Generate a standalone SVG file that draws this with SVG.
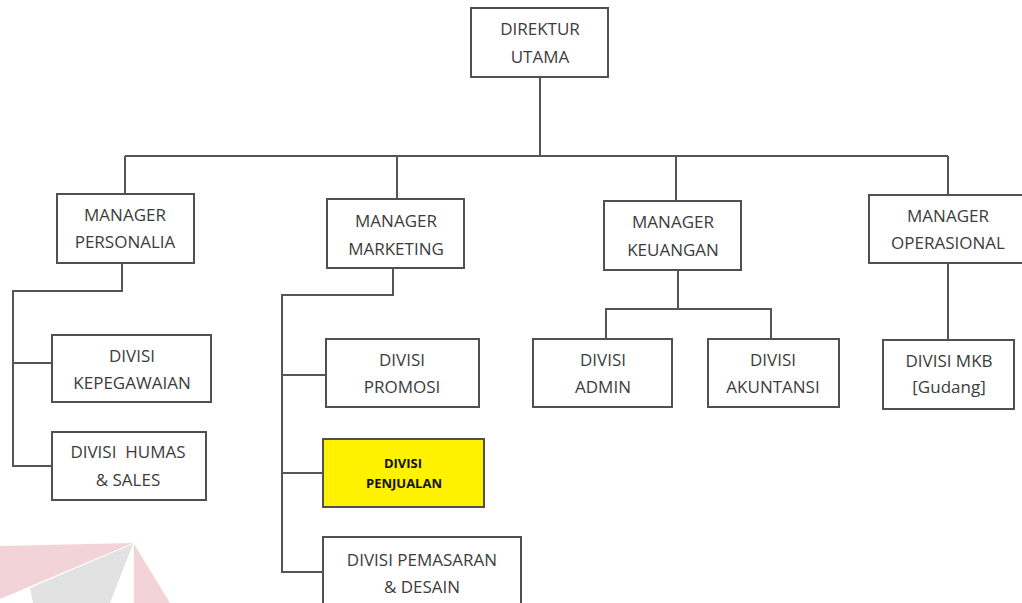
<svg xmlns="http://www.w3.org/2000/svg" width="1022" height="603" viewBox="0 0 1022 603">
<style>
.box{fill:#fff;stroke:#505050;stroke-width:2}
.hl{fill:#fff200;stroke:#505050;stroke-width:2}
.t{font-family:"Open Sans","Liberation Sans",sans-serif;font-size:17px;fill:#3c3c3c;text-anchor:middle}
.tb{font-family:"Open Sans","Liberation Sans",sans-serif;font-size:13px;font-weight:bold;fill:#111;text-anchor:middle}
.c{fill:none;stroke:#555;stroke-width:2}
</style>
<rect width="1022" height="603" fill="#fff"/>
<g id="watermark">
<polygon points="0,546 133,543 0,599" fill="#f2d3d7"/>
<polygon points="133,544 30,588 33,603 110,603" fill="#e2e2e2"/>
<polygon points="134,544 134,603 170,603" fill="#f2d3d7"/>
</g>
<g id="connectors">
<path class="c" d="M540,77 V156 M125,156 H948 M125,156 V194 M397,156 V199 M676,156 V201 M948,156 V195"/>
<path class="c" d="M122,263 V291 H13 V466 H52 M13,363 H52"/>
<path class="c" d="M393,268 V295 H282 V572 H323 M282,375 H326 M282,473 H323"/>
<path class="c" d="M678,270 V309 M606,339 V309 H771 V342"/>
<path class="c" d="M948,263 V340"/>
</g>
<g id="direktur"><rect class="box" x="471" y="8" width="137" height="69"/><text class="t" x="540" y="35">DIREKTUR</text><text class="t" x="540" y="63">UTAMA</text></g>
<g id="mgr-personalia"><rect class="box" x="57" y="194" width="137" height="69"/><text class="t" x="125" y="221">MANAGER</text><text class="t" x="125" y="248">PERSONALIA</text></g>
<g id="mgr-marketing"><rect class="box" x="327" y="199" width="137" height="69"/><text class="t" x="396" y="227">MANAGER</text><text class="t" x="396" y="255">MARKETING</text></g>
<g id="mgr-keuangan"><rect class="box" x="604" y="201" width="137" height="69"/><text class="t" x="673" y="228">MANAGER</text><text class="t" x="673" y="256">KEUANGAN</text></g>
<g id="mgr-operasional"><rect class="box" x="869" y="195" width="160" height="68"/><text class="t" x="948" y="222">MANAGER</text><text class="t" x="948" y="249">OPERASIONAL</text></g>
<g id="div-kepegawaian"><rect class="box" x="52" y="335" width="159" height="67"/><text class="t" x="132" y="362">DIVISI</text><text class="t" x="132" y="389">KEPEGAWAIAN</text></g>
<g id="div-humas"><rect class="box" x="52" y="432" width="154" height="68"/><text class="t" x="128" y="458" xml:space="preserve">DIVISI  HUMAS</text><text class="t" x="128" y="486">&amp; SALES</text></g>
<g id="div-promosi"><rect class="box" x="326" y="339" width="153" height="68"/><text class="t" x="402" y="366">DIVISI</text><text class="t" x="402" y="393">PROMOSI</text></g>
<g id="div-penjualan"><rect class="hl" x="323" y="439" width="161" height="68"/><text class="tb" x="403" y="468">DIVISI</text><text class="tb" x="404" y="488">PENJUALAN</text></g>
<g id="div-pemasaran"><rect class="box" x="323" y="537" width="198" height="80"/><text class="t" x="422" y="566">DIVISI PEMASARAN</text><text class="t" x="422" y="593">&amp; DESAIN</text></g>
<g id="div-admin"><rect class="box" x="533" y="339" width="139" height="68"/><text class="t" x="603" y="366">DIVISI</text><text class="t" x="603" y="393">ADMIN</text></g>
<g id="div-akuntansi"><rect class="box" x="708" y="339" width="131" height="68"/><text class="t" x="773" y="366">DIVISI</text><text class="t" x="773" y="393">AKUNTANSI</text></g>
<g id="div-mkb"><rect class="box" x="883" y="340" width="131" height="69"/><text class="t" x="949" y="367">DIVISI MKB</text><text class="t" x="949" y="393">[Gudang]</text></g>
</svg>
